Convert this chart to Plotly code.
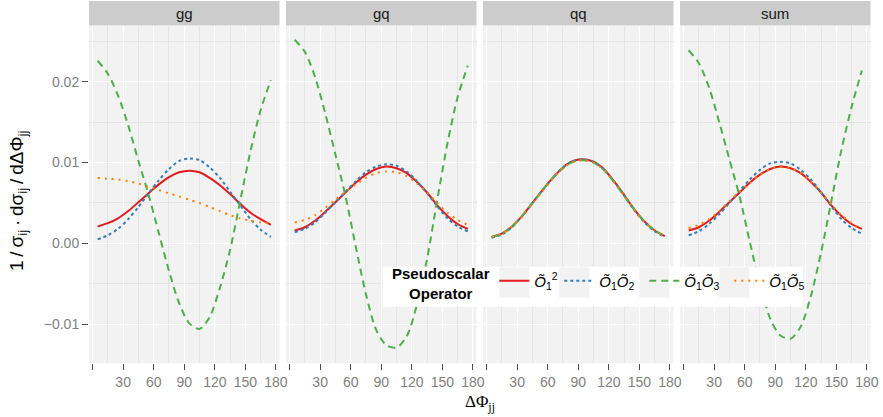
import plotly.graph_objects as go

# Azimuthal separation bins (degrees)
PHI = [5, 15, 25, 35, 45, 55, 65, 75, 85, 95, 105, 115, 125, 135, 145, 155, 165, 175]

CHANNELS = ["gg", "gq", "qq", "sum"]
OPERATORS = [
    "<i>Õ</i><sub>1</sub><sup>2</sup>",
    "<i>Õ</i><sub>1</sub><i>Õ</i><sub>2</sub>",
    "<i>Õ</i><sub>1</sub><i>Õ</i><sub>3</sub>",
    "<i>Õ</i><sub>1</sub><i>Õ</i><sub>5</sub>",
]

X_TICKS = [0, 30, 60, 90, 120, 150, 180]
X_TICK_TEXT = ["", "30", "60", "90", "120", "150", "180"]
X_MINOR = [15, 45, 75, 105, 135, 165]
Y_TICKS = [-0.01, 0.0, 0.01, 0.02]
Y_MINOR = [-0.005, 0.005, 0.015, 0.025]

# gg channel
gg_o1o1 = [0.0021, 0.0025, 0.0031, 0.0040, 0.0051, 0.0062, 0.0073, 0.0082, 0.0088,
           0.0090, 0.0088, 0.0081, 0.0072, 0.0061, 0.0049, 0.0038, 0.0030, 0.0023]
gg_o1o2 = [0.0005, 0.0010, 0.0018, 0.0030, 0.0045, 0.0062, 0.0078, 0.0092, 0.0102,
           0.0105, 0.0103, 0.0094, 0.0081, 0.0064, 0.0047, 0.0030, 0.0017, 0.0008]
gg_o1o3 = [0.0226, 0.0210, 0.0183, 0.0146, 0.0102, 0.0060, 0.0013, -0.0034, -0.0074,
           -0.0099, -0.0106, -0.0091, -0.0055, -0.0008, 0.0053, 0.0114, 0.0165, 0.0202]
gg_o1o5 = [0.0081, 0.0080, 0.0079, 0.0077, 0.0074, 0.0070, 0.0066, 0.0062, 0.0058,
           0.0054, 0.0050, 0.0045, 0.0040, 0.0035, 0.0031, 0.0028, 0.0026, 0.0025]

# gq channel
gq_o1o1 = [0.0016, 0.0020, 0.0028, 0.0039, 0.0051, 0.0063, 0.0075, 0.0085, 0.0092,
           0.0095, 0.0093, 0.0087, 0.0076, 0.0063, 0.0047, 0.0034, 0.0024, 0.0018]
gq_o1o2 = [0.0014, 0.0018, 0.0026, 0.0038, 0.0051, 0.0064, 0.0077, 0.0088, 0.0095,
           0.0098, 0.0096, 0.0089, 0.0077, 0.0062, 0.0046, 0.0031, 0.0021, 0.0015]
gq_o1o3 = [0.0252, 0.0237, 0.0206, 0.0161, 0.0110, 0.0058, -0.0004, -0.0063, -0.0107,
           -0.0126, -0.0129, -0.0115, -0.0076, -0.0019, 0.0054, 0.0124, 0.0181, 0.0220]
gq_o1o5 = [0.0026, 0.0029, 0.0035, 0.0044, 0.0054, 0.0064, 0.0073, 0.0081, 0.0087,
           0.0089, 0.0088, 0.0083, 0.0074, 0.0063, 0.0050, 0.0038, 0.0029, 0.0023]

# qq channel
qq_o1o1 = [0.0008, 0.0012, 0.0021, 0.0034, 0.0050, 0.0066, 0.0081, 0.0094, 0.0102,
           0.0104, 0.0101, 0.0092, 0.0077, 0.0060, 0.0042, 0.0027, 0.0016, 0.0009]
qq_o1o2 = [0.0007, 0.0011, 0.0020, 0.0034, 0.0050, 0.0066, 0.0081, 0.0094, 0.0102,
           0.0104, 0.0101, 0.0092, 0.0077, 0.0059, 0.0041, 0.0026, 0.0015, 0.0008]
qq_o1o3 = [0.0008, 0.0012, 0.0021, 0.0034, 0.0050, 0.0066, 0.0081, 0.0093, 0.0101,
           0.0103, 0.0100, 0.0091, 0.0076, 0.0059, 0.0042, 0.0027, 0.0016, 0.0009]
qq_o1o5 = [0.0008, 0.0012, 0.0021, 0.0034, 0.0049, 0.0065, 0.0080, 0.0093, 0.0101,
           0.0103, 0.0100, 0.0091, 0.0076, 0.0059, 0.0042, 0.0027, 0.0016, 0.0009]

# sum over channels
sum_o1o1 = [0.0016, 0.0020, 0.0028, 0.0039, 0.0051, 0.0063, 0.0075, 0.0085, 0.0092,
            0.0095, 0.0093, 0.0087, 0.0076, 0.0063, 0.0047, 0.0034, 0.0024, 0.0018]
sum_o1o2 = [0.0010, 0.0015, 0.0024, 0.0036, 0.0050, 0.0065, 0.0079, 0.0091, 0.0099,
            0.0101, 0.0099, 0.0091, 0.0079, 0.0063, 0.0046, 0.0030, 0.0019, 0.0012]
sum_o1o3 = [0.0239, 0.0223, 0.0193, 0.0150, 0.0104, 0.0058, 0.0002, -0.0051, -0.0093,
            -0.0114, -0.0118, -0.0103, -0.0065, -0.0011, 0.0052, 0.0116, 0.0169, 0.0214]
sum_o1o5 = [0.0019, 0.0023, 0.0030, 0.0040, 0.0052, 0.0064, 0.0075, 0.0085, 0.0092,
            0.0095, 0.0093, 0.0087, 0.0076, 0.0063, 0.0048, 0.0035, 0.0025, 0.0018]

SERIES = {
    "gg": [gg_o1o1, gg_o1o2, gg_o1o3, gg_o1o5],
    "gq": [gq_o1o1, gq_o1o2, gq_o1o3, gq_o1o5],
    "qq": [qq_o1o1, qq_o1o2, qq_o1o3, qq_o1o5],
    "sum": [sum_o1o1, sum_o1o2, sum_o1o3, sum_o1o5],
}

COLORS = ["#E41A1C", "#377EB8", "#4DAF4A", "#FF7F00"]
DASHES = ["solid", "3px,3px", "7px,5px", "2px,5px"]
LEGEND_WIDTHS = [20, 40, 40, 40]

W, H = 883, 417
L, R, T, B = 89, 12, 1, 54
PW, PH = W - L - R, H - T - B          # plot area in pixels
PANEL_PITCH, PANEL_W = 197, 190.5
PANEL_TOP = 26                          # pixel row where panels start


def px_x(px):
    return (px - L) / PW


def px_y(py):
    return (H - B - py) / PH


SANS = "Liberation Sans, Arial, sans-serif"
BG = "#F2F2F2"
STRIP = "#CCCCCC"

fig = go.Figure()

for ci, ch in enumerate(CHANNELS):
    suffix = "" if ci == 0 else str(ci + 1)
    for oi, op in enumerate(OPERATORS):
        fig.add_trace(go.Scatter(
            x=PHI, y=SERIES[ch][oi], mode="lines", name=op,
            legendgroup=op, showlegend=(ci == 0), legendwidth=LEGEND_WIDTHS[oi],
            line=dict(color=COLORS[oi], width=2, dash=DASHES[oi],
                      shape="spline", smoothing=0.8),
            xaxis="x" + suffix, yaxis="y" + suffix,
        ))

y_top = px_y(PANEL_TOP)
layout_axes = {}
shapes = []
annotations = []
for ci, ch in enumerate(CHANNELS):
    suffix = "" if ci == 0 else str(ci + 1)
    x0 = ci * PANEL_PITCH / PW
    x1 = x0 + PANEL_W / PW
    layout_axes["xaxis" + suffix] = dict(
        domain=[x0, x1], range=[-3.5, 183.5], anchor="y" + suffix,
        tickmode="array", tickvals=X_TICKS, ticktext=X_TICK_TEXT,
        ticks="outside", ticklen=6, tickwidth=1, tickcolor="#4D4D4D",
        tickfont=dict(family=SANS, size=14, color="#7F7F7F"),
        showgrid=True, gridcolor="white", gridwidth=1.4,
        minor=dict(tickmode="array", tickvals=X_MINOR, showgrid=True,
                   gridcolor="#E4E4E4", gridwidth=0.7, ticks=""),
        zeroline=False, showline=False,
    )
    yax = dict(
        domain=[0, y_top], range=[-0.0148, 0.0269], anchor="x" + suffix,
        tickmode="array", tickvals=Y_TICKS, tickformat=".2f",
        showgrid=True, gridcolor="white", gridwidth=1.4,
        minor=dict(tickmode="array", tickvals=Y_MINOR, showgrid=True,
                   gridcolor="#E4E4E4", gridwidth=0.7, ticks=""),
        zeroline=False, showline=False,
    )
    if ci == 0:
        yax.update(
            ticks="outside", ticklen=6, tickwidth=1, tickcolor="#4D4D4D",
            tickfont=dict(family=SANS, size=14, color="#7F7F7F"),
        )
    else:
        yax.update(matches="y", showticklabels=False, ticks="")
    layout_axes["yaxis" + suffix] = yax

    # facet strip
    shapes.append(dict(type="rect", xref="paper", yref="paper",
                       x0=x0, x1=x1, y0=px_y(25.5), y1=1.0,
                       fillcolor=STRIP, line=dict(width=0), layer="below"))
    annotations.append(dict(text=ch, xref="paper", yref="paper",
                            x=(x0 + x1) / 2, y=px_y(13.5), showarrow=False,
                            xanchor="center", yanchor="middle",
                            font=dict(family=SANS, size=15, color="#1A1A1A")))

# legend panel: white box with grey key squares
shapes.append(dict(type="rect", xref="paper", yref="paper",
                   x0=px_x(382.7), x1=px_x(802.7), y0=px_y(306.7), y1=px_y(266.7),
                   fillcolor="white", line=dict(width=0), layer="above"))
for kx in [499.3, 559.3, 639.3, 719.3]:
    shapes.append(dict(type="rect", xref="paper", yref="paper",
                       x0=px_x(kx), x1=px_x(kx + 30), y0=px_y(297.7), y1=px_y(267.3),
                       fillcolor=BG, line=dict(width=0), layer="above"))

annotations.append(dict(text="<b>Pseudoscalar<br>Operator</b>", xref="paper", yref="paper",
                        x=px_x(440.5), y=px_y(283), showarrow=False,
                        xanchor="center", yanchor="middle", align="center",
                        font=dict(family=SANS, size=15, color="black")))

# y-axis title, set beside the first panel
annotations.append(dict(
    text="1\u2009/\u2009σ<sub>ij</sub>\u2009·\u2009dσ<sub>ij</sub>\u2009/\u2009dΔΦ<sub>jj</sub>",
    xref="paper", yref="paper", x=px_x(18), y=px_y(201), textangle=-90,
    showarrow=False, xanchor="center", yanchor="middle",
    font=dict(family=SANS, size=19, color="black")))

# shared x-axis title
annotations.append(dict(text="ΔΦ<sub>jj</sub>", xref="paper", yref="paper",
                        x=px_x(480), y=px_y(403), showarrow=False,
                        xanchor="center", yanchor="middle",
                        font=dict(family="Liberation Serif, Times New Roman, serif",
                                  size=17, color="black")))

fig.update_layout(
    width=W, height=H,
    margin=dict(l=L, r=R, t=T, b=B, autoexpand=False),
    paper_bgcolor="white", plot_bgcolor=BG,
    showlegend=True,
    legend=dict(orientation="h", xref="container", yref="container",
                x=494.3 / W, xanchor="left", y=1 - 264.5 / H, yanchor="top",
                bgcolor="rgba(0,0,0,0)", borderwidth=0,
                itemwidth=30, traceorder="normal",
                font=dict(family=SANS, size=15, color="black")),
    shapes=shapes, annotations=annotations,
    **layout_axes,
)

fig.write_html("out.html")
